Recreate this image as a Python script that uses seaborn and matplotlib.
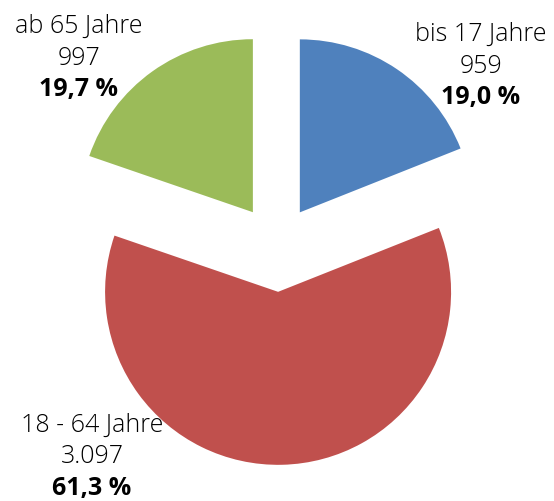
import matplotlib
matplotlib.use("Agg")
import matplotlib.pyplot as plt
import seaborn as sns

sns.set_theme(style="white")
plt.rcParams['font.family'] = ['Open Sans', 'DejaVu Sans']

# Altersgruppen
categories = ['bis 17 Jahre', '18 - 64 Jahre', 'ab 65 Jahre']
values = [959, 3097, 997]
value_labels = ['959', '3.097', '997']
percent_labels = ['19,0 %', '61,3 %', '19,7 %']
colors = ['#4F81BD', '#C0504D', '#9BBB59']
explode = [0.235, 0.265, 0.24]

fig = plt.figure(figsize=(5.54, 5.01), dpi=100)
ax = fig.add_axes([0, 0, 1, 1])
ax.pie(values, colors=colors, explode=explode, startangle=90,
       counterclock=False, radius=1.0, wedgeprops=dict(linewidth=0))
ax.set_xlim(-1.601, 1.601)
ax.set_ylim(-1.474, 1.422)
ax.set_aspect('equal')
ax.axis('off')

# Beschriftungspositionen (x-Mitte, Grundlinie der ersten Zeile)
label_pos = [(1.179, 1.185), (-1.069, -1.072), (-1.145, 1.231)]
dy = 0.183
fs = 18
for i, (x, y) in enumerate(label_pos):
    ax.text(x, y, categories[i], ha='center', va='baseline', fontsize=fs,
            fontweight='light', color='black')
    ax.text(x, y - dy, value_labels[i], ha='center', va='baseline', fontsize=fs,
            fontweight='light', color='black')
    ax.text(x, y - 2 * dy, percent_labels[i], ha='center', va='baseline', fontsize=fs,
            fontweight='bold', color='black')

fig.savefig('out.png', dpi=100)
